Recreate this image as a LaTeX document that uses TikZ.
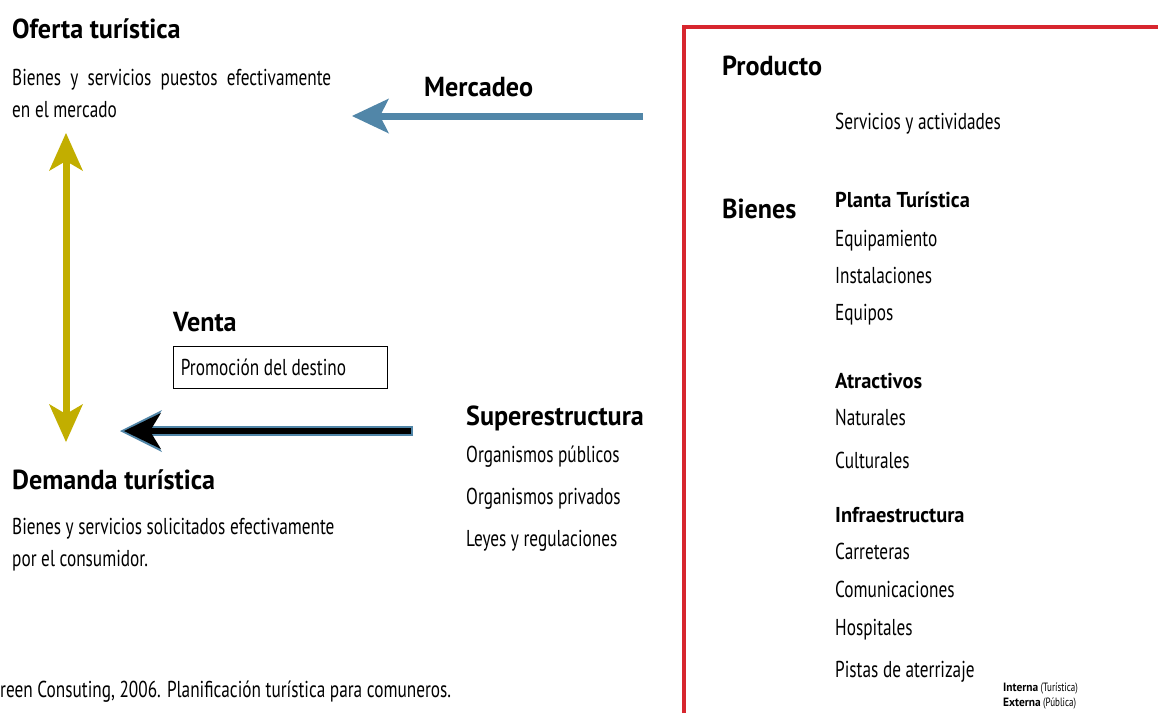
\documentclass[tikz,border=0pt]{standalone}
\usepackage{fontspec}
\setmainfont{PT Sans}[FakeStretch=0.75,BoldFeatures={FakeStretch=0.95}]
\usetikzlibrary{arrows.meta}
\definecolor{mercblue}{HTML}{5186A8}
\definecolor{ejeoliva}{HTML}{C2AE00}
\definecolor{marcorojo}{HTML}{D7262E}

\begin{document}
\begin{tikzpicture}[x=1pt,y=-1pt,
  titulo/.style={anchor=base west,inner sep=0pt,font=\fontsize{27.5}{30}\selectfont\bfseries},
  texto/.style={anchor=base west,inner sep=0pt,font=\fontsize{23}{28}\selectfont},
  subtitulo/.style={texto,font=\fontsize{21.5}{26}\selectfont\bfseries},
  mini/.style={anchor=base west,inner sep=0pt,font=\fontsize{12}{14}\selectfont}]
\useasboundingbox (0,0) rectangle (1158,713);

% marco rojo
\draw[marcorojo,line width=3.5pt] (684,713) -- (684,27) -- (1158,27);

% lado izquierdo
\node (oferta) [titulo] at (12,38) {Oferta turística};
\node (oferta-1) [texto] at (12,85) {\makebox[319pt][s]{Bienes y servicios puestos efectivamente}};
\node (oferta-2) [texto] at (12,117) {en el mercado};
\node (mercadeo) [titulo] at (424,96) {Mercadeo};
\node (venta) [titulo] at (173,331) {Venta};
\node (promo) [draw,line width=0.8pt,anchor=north west,minimum width=214pt,minimum height=42pt,
  inner xsep=7pt,font=\fontsize{23}{28}\selectfont] at (173,346) {\makebox[199pt][l]{Promoción del destino}};
\node (demanda) [titulo] at (12,489) {Demanda turística};
\node (demanda-1) [texto] at (12,534) {Bienes y servicios solicitados efectivamente};
\node (demanda-2) [texto] at (12,566) {por el consumidor.};
\node (superestr) [titulo] at (466,425) {Superestructura};
\foreach \y/\t [count=\i] in {462/Organismos públicos,504/Organismos privados,546/Leyes y regulaciones}
  \node (superestr-\i) [texto] at (466,\y) {\t};

% lado derecho
\node (producto) [titulo] at (722,75) {Producto};
\node (servicios) [texto] at (835,129) {Servicios y actividades};
\node (bienes) [titulo] at (722,218) {Bienes};
\node (planta) [subtitulo] at (835,207) {Planta Turística};
\foreach \y/\t [count=\i] in {246/Equipamiento,283/Instalaciones,320/Equipos}
  \node (planta-\i) [texto] at (835,\y) {\t};
\node (atractivos) [subtitulo] at (835,388) {Atractivos};
\foreach \y/\t [count=\i] in {425/Naturales,468/Culturales}
  \node (atractivos-\i) [texto] at (835,\y) {\t};
\node (infra) [subtitulo] at (835,522) {Infraestructura};
\foreach \y/\t [count=\i] in {559/Carreteras,597/Comunicaciones,635/Hospitales,677/Pistas de aterrizaje}
  \node (infra-\i) [texto] at (835,\y) {\t};

% pie
\node (fuente) [texto] at (0,697) {reen Consuting, 2006. Planificación turística para comuneros.};
\node (interna) [mini] at (1003,691) {\textbf{Interna} (Turística)};
\node (externa) [mini] at (1003,706) {\textbf{Externa} (Pública)};

% flechas
\coordinate (merc-ini) at (643,116);
\coordinate (merc-fin) at (352,116);
\draw[mercblue,line width=7pt,-{Stealth[length=37pt,width=35pt,inset=9pt,line width=0pt]}] (merc-ini) -- (merc-fin);

\coordinate (eje-arriba) at (66,133);
\coordinate (eje-abajo) at (66,442);
\draw[ejeoliva,line width=7pt,{Stealth[length=38pt,width=34pt,inset=10pt,line width=0pt]}-{Stealth[length=38pt,width=34pt,inset=10pt,line width=0pt]}] (eje-arriba) -- (eje-abajo);

\coordinate (venta-ini) at (413,431);
\coordinate (venta-fin) at (120,431);
\draw[mercblue,line width=10pt,-{Stealth[length=42pt,width=42pt,inset=13pt,line width=0pt]}] (venta-ini) -- (venta-fin);
\draw[black,line width=6pt,-{Stealth[length=37pt,width=36pt,inset=11pt,line width=0pt]}] ([xshift=-2pt]venta-ini) -- ([xshift=4pt]venta-fin);
\end{tikzpicture}
\end{document}
